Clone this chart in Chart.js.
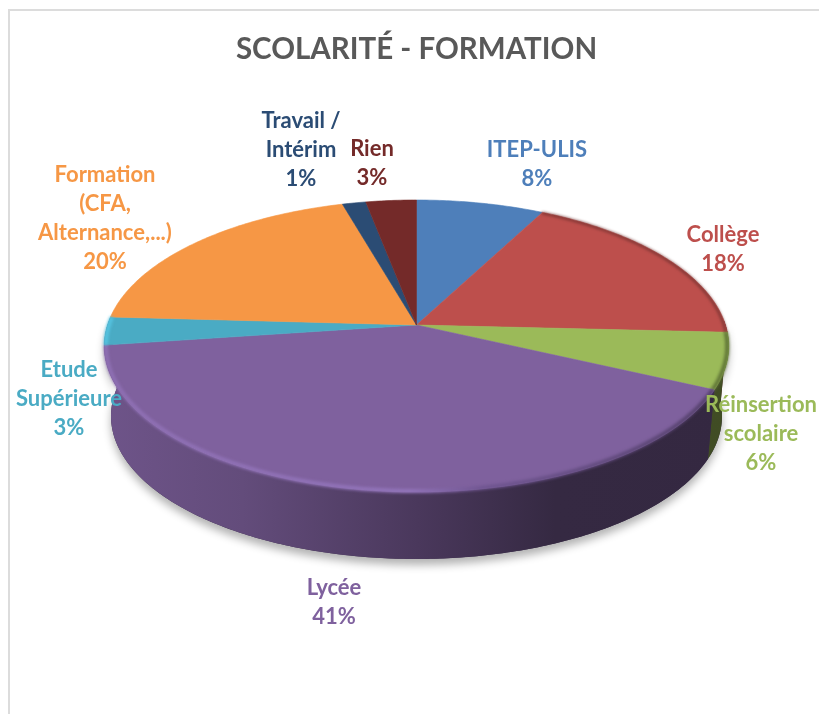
<!DOCTYPE html>
<html lang="fr">
<head>
<meta charset="utf-8">
<title>Scolarité - Formation</title>
<script src="https://cdn.jsdelivr.net/npm/chart.js@4"></script>
<style>
  html, body { margin: 0; padding: 0; background: #fff; overflow: hidden; }
  #frame { position: absolute; left: 8px; top: 9px; width: 900px; height: 900px; border: 2px solid #dcdcdc; }
  #chart { position: absolute; left: 0; top: 0; }
</style>
</head>
<body>
<div id="frame"></div>
<canvas id="chart" width="819" height="714"></canvas>
<script>
// Daten (Werte aus dem Bild geschätzt, Beschriftung gerundet)
const categories = ['ITEP-ULIS', 'Collège', 'Réinsertion scolaire', 'Lycée', 'Etude Supérieure', 'Formation (CFA, Alternance,...)', 'Travail / Intérim', 'Rien'];
const values = [7.6, 18.2, 6.2, 40.8, 3.1, 19.7, 1.4, 3.0];
const labelLines = [['ITEP-ULIS'], ['Collège'], ['Réinsertion', 'scolaire'], ['Lycée'], ['Etude', 'Supérieure'], ['Formation', '(CFA,', 'Alternance,...)'], ['Travail /', 'Intérim'], ['Rien']];
const colors = ['#4e7fba', '#bd4f4c', '#9bba59', '#7f619e', '#4aabc4', '#f69745', '#2b4c74', '#742a29'];

// Mitte des Textblocks pro Segment (Pixel)
const labelCenters = [[537, 164], [723, 249], [761, 434], [334, 602], [69, 399], [105, 218], [301, 150], [372, 163]];
const lineHeight = 29;

// Projektion der Torte (Perspektive von oben)
const cx = 416.5, cy = 325, rx = 309, ry = 143, persp = 0.144;
const depth = 0.0216, vanishY = 3590;

function project(angle, scale = 1) {
  const x = Math.cos(angle) * scale, y = Math.sin(angle) * scale;
  const w = 1 - persp * y;
  return { x: cx + rx * x / w, y: cy + ry * y / w };
}

function lower(p) {
  return { x: p.x + depth * (cx - p.x), y: p.y + depth * (vanishY - p.y) };
}

function arcPoints(from, to, scale = 1) {
  const n = Math.max(2, Math.ceil(Math.abs(to - from) * 80));
  const pts = [];
  for (let i = 0; i <= n; i++) pts.push(project(from + (to - from) * i / n, scale));
  return pts;
}

function wallGradient(ctx, hex) {
  const r = parseInt(hex.slice(1, 3), 16), g = parseInt(hex.slice(3, 5), 16), b = parseInt(hex.slice(5, 7), 16);
  const shade = f => `rgb(${Math.round(r * f)},${Math.round(g * f)},${Math.round(b * f)})`;
  const grad = ctx.createLinearGradient(105, 0, 730, 0);
  grad.addColorStop(0, shade(0.87));
  grad.addColorStop(0.22, shade(0.78));
  grad.addColorStop(0.5, shade(0.58));
  grad.addColorStop(0.72, shade(0.42));
  grad.addColorStop(1, shade(0.41));
  return grad;
}

const pie3d = {
  id: 'pie3d',
  beforeDatasetDraw(chart, args) {
    const ctx = chart.ctx;
    const arcs = chart.getDatasetMeta(args.index).data;
    const wallFrom = -0.03, wallTo = Math.PI + 0.05;

    // Schatten unter der Torte
    ctx.save();
    ctx.shadowColor = 'rgba(0,0,0,0.3)';
    ctx.shadowBlur = 9;
    ctx.shadowOffsetY = 6;
    ctx.fillStyle = '#3a2d4a';
    ctx.beginPath();
    const rim = arcPoints(wallFrom, wallTo);
    rim.forEach(p => ctx.lineTo(p.x, p.y));
    rim.slice().reverse().map(lower).forEach(p => ctx.lineTo(p.x, p.y));
    ctx.closePath();
    ctx.fill();
    ctx.restore();

    // Seitenwand (links läuft Lycée bis zum Rand durch)
    arcs.forEach((arc, i) => {
      if (i === 4) return;
      const from = Math.max(arc.startAngle, wallFrom);
      const to = i === 3 ? wallTo : Math.min(arc.endAngle, wallTo);
      if (to <= from) return;
      const pts = arcPoints(from, to);
      ctx.beginPath();
      pts.forEach(p => ctx.lineTo(p.x, p.y));
      pts.slice().reverse().map(lower).forEach(p => ctx.lineTo(p.x, p.y));
      ctx.closePath();
      ctx.fillStyle = wallGradient(ctx, colors[i]);
      ctx.fill();
    });

    // Deckfläche
    arcs.forEach((arc, i) => {
      ctx.beginPath();
      ctx.moveTo(cx, cy);
      arcPoints(arc.startAngle, arc.endAngle).forEach(p => ctx.lineTo(p.x, p.y));
      ctx.closePath();
      ctx.fillStyle = colors[i];
      ctx.strokeStyle = colors[i];
      ctx.lineWidth = 0.6;
      ctx.fill();
      ctx.stroke();
    });

    // Kante
    const rimGrad = ctx.createLinearGradient(105, 0, 715, 0);
    rimGrad.addColorStop(0, '#8f70b4');
    rimGrad.addColorStop(0.5, '#9274ba');
    rimGrad.addColorStop(0.62, '#6f5590');
    rimGrad.addColorStop(1, '#54406b');
    const edgeStyles = { 1: ['#6e2f2d', 2], 2: ['#5f7436', 4], 3: [rimGrad, 4], 4: ['#55c3e0', 4] };
    arcs.forEach((arc, i) => {
      if (!edgeStyles[i]) return;
      ctx.save();
      ctx.filter = 'blur(1.4px)';
      ctx.strokeStyle = edgeStyles[i][0];
      ctx.lineWidth = edgeStyles[i][1];
      ctx.beginPath();
      arcPoints(arc.startAngle, arc.endAngle, 0.995).forEach(p => ctx.lineTo(p.x, p.y));
      ctx.stroke();
      ctx.restore();
    });
    return false;
  },
  afterDraw(chart) {
    const ctx = chart.ctx;
    ctx.save();
    ctx.font = 'bold 22px Lato';
    ctx.textAlign = 'center';
    ctx.textBaseline = 'middle';
    categories.forEach((c, i) => {
      const lines = labelLines[i].concat(Math.round(values[i]) + '%');
      const top = labelCenters[i][1] - (lines.length - 1) * lineHeight / 2;
      ctx.fillStyle = colors[i];
      lines.forEach((t, j) => ctx.fillText(t, labelCenters[i][0], top + j * lineHeight));
    });
    ctx.restore();
  }
};

new Chart(document.getElementById('chart'), {
  type: 'pie',
  data: {
    labels: categories,
    datasets: [{ data: values, backgroundColor: colors, borderWidth: 0 }]
  },
  options: {
    responsive: false,
    animation: false,
    layout: { padding: { left: 14 } },
    plugins: {
      legend: { display: false },
      tooltip: { enabled: false },
      title: {
        display: true,
        text: 'SCOLARITÉ - FORMATION',
        color: '#595959',
        font: { family: 'Lato', size: 29.5, weight: 'bold' },
        padding: { top: 32, bottom: 10 }
      }
    }
  },
  plugins: [pie3d]
});
</script>
</body>
</html>
